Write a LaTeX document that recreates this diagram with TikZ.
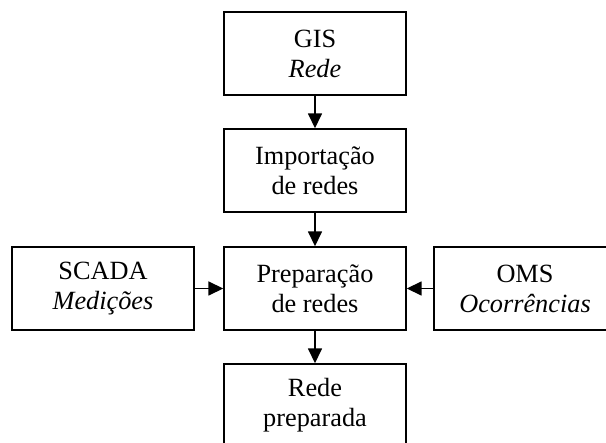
\documentclass[tikz,border=0pt]{standalone}
\usepackage{fontspec}
\setmainfont{Liberation Serif}
\usepackage{tikz}
\usetikzlibrary{positioning, arrows.meta}

\begin{document}
\begin{tikzpicture}[x=1pt, y=-1pt,
    blockbox/.style={rectangle, draw, line width=1.4pt, minimum width=182pt, minimum height=83pt,
                     inner sep=0pt, align=center, font=\fontsize{26.3}{30}\selectfont},
    flow/.style={line width=1.6pt, -{Triangle[width=14pt,length=15pt]}}]
    \useasboundingbox (0,0) rectangle (606,443);
    \clip (0,0) rectangle (606,443);
    \node (gis)      at (315,53.5)  [blockbox] {GIS\\\textit{Rede}};
    \node (importer) at (315,170.5) [blockbox] {Importação\\de redes};
    \node (preparer) at (315,288.5) [blockbox] {Preparação\\de redes};
    \node (scada)    at (103,288.5) [blockbox] {SCADA\\\textit{Medições}};
    \node (oms)      at (525,288.5) [blockbox] {OMS\\\textit{Ocorrências}};
    \node (prepared) at (315,405.5) [blockbox] {Rede\\preparada};
    \draw[flow] (gis) -- (importer);
    \draw[flow] (importer) -- (preparer);
    \draw[flow] (preparer) -- (prepared);
    \draw[flow] (scada) -- (preparer);
    \draw[flow] (oms) -- (preparer);
\end{tikzpicture}
\end{document}
